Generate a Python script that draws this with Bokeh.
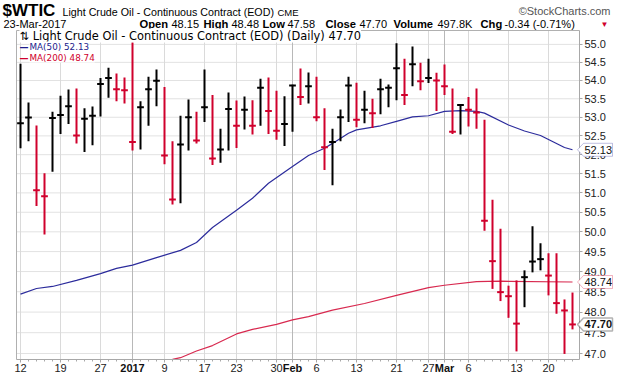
import math
from bokeh.plotting import figure
from bokeh.models import (Range1d, FixedTicker, PrintfTickFormatter, Label,
                          PolyAnnotation, ColumnDataSource)
from bokeh.embed import file_html
from bokeh.resources import INLINE

# ---------------- data ----------------
dates = ["2016-12-12", "2016-12-13", "2016-12-14", "2016-12-15", "2016-12-16",
         "2016-12-19", "2016-12-20", "2016-12-21", "2016-12-22", "2016-12-23",
         "2016-12-27", "2016-12-28", "2016-12-29", "2016-12-30",
         "2017-01-03", "2017-01-04", "2017-01-05", "2017-01-06",
         "2017-01-09", "2017-01-10", "2017-01-11", "2017-01-12", "2017-01-13",
         "2017-01-17", "2017-01-18", "2017-01-19", "2017-01-20",
         "2017-01-23", "2017-01-24", "2017-01-25", "2017-01-26", "2017-01-27",
         "2017-01-30", "2017-01-31", "2017-02-01", "2017-02-02", "2017-02-03",
         "2017-02-06", "2017-02-07", "2017-02-08", "2017-02-09", "2017-02-10",
         "2017-02-13", "2017-02-14", "2017-02-15", "2017-02-16", "2017-02-17",
         "2017-02-21", "2017-02-22", "2017-02-23", "2017-02-24",
         "2017-02-27", "2017-02-28", "2017-03-01", "2017-03-02", "2017-03-03",
         "2017-03-06", "2017-03-07", "2017-03-08", "2017-03-09", "2017-03-10",
         "2017-03-13", "2017-03-14", "2017-03-15", "2017-03-16", "2017-03-17",
         "2017-03-20", "2017-03-21", "2017-03-22", "2017-03-23"]

high = [54.46, 53.40, 52.78, 51.51, 53.15, 53.58, 53.75, 53.78, 53.24, 53.29,
        54.07, 54.35, 54.19, 54.08, 55.06, 53.43, 54.10, 54.30, 53.82, 52.36,
        53.04, 53.48, 53.15, 54.30, 53.60, 52.69, 53.67, 53.45, 53.56, 53.46,
        54.05, 54.08, 53.72, 53.57, 53.88, 54.33, 54.22, 54.10, 53.24, 52.69,
        53.21, 54.10, 53.94, 53.72, 53.50, 54.05, 53.89, 55.03, 54.60, 54.94,
        54.49, 54.60, 54.21, 54.44, 53.78, 53.36, 53.55, 53.78, 52.93, 50.82,
        50.08, 48.65, 48.78, 49.03, 50.14, 49.71, 49.46, 49.46, 48.31, 48.48]

low = [52.17, 52.36, 50.66, 49.93, 51.55, 52.55, 52.82, 52.30, 52.07, 52.25,
       53.02, 53.53, 53.43, 53.37, 52.11, 52.14, 52.77, 53.30, 51.75, 50.70,
       50.73, 52.11, 52.30, 52.87, 51.73, 51.79, 52.11, 52.18, 52.67, 52.54,
       52.77, 52.55, 52.40, 52.23, 52.61, 53.33, 53.37, 52.89, 51.60, 51.20,
       52.36, 52.87, 52.73, 52.84, 52.71, 53.08, 53.27, 53.46, 53.33, 53.84,
       53.73, 53.93, 53.17, 53.60, 52.55, 52.54, 52.75, 52.69, 50.03, 48.57,
       48.27, 47.86, 47.05, 48.12, 48.98, 49.03, 48.41, 47.96, 46.99, 47.58]

close = [52.84, 52.99, 51.07, 50.91, 52.98, 53.06, 53.30, 52.51, 52.96, 53.04,
         53.90, 54.07, 53.76, 53.73, 52.34, 53.27, 53.76, 53.99, 51.98, 50.83,
         52.27, 53.00, 52.38, 53.27, 51.90, 52.14, 53.22, 52.77, 53.20, 52.77,
         53.80, 53.17, 52.64, 52.82, 53.86, 53.55, 53.84, 53.00, 52.20, 52.34,
         53.00, 53.86, 52.93, 53.20, 53.11, 53.76, 53.80, 54.34, 53.60, 54.45,
         53.98, 54.07, 54.00, 53.84, 52.61, 53.33, 53.20, 53.13, 50.28, 49.26,
         48.49, 48.39, 47.72, 48.86, 49.25, 49.31, 48.90, 48.22, 48.04, 47.70]

last_open = 48.15
last_volume = "497.8K"

ma50_dates = ["2016-12-12", "2016-12-14", "2016-12-16", "2016-12-21", "2016-12-27",
              "2016-12-29", "2017-01-03", "2017-01-06", "2017-01-11", "2017-01-13",
              "2017-01-18", "2017-01-23", "2017-01-25", "2017-01-27", "2017-02-01",
              "2017-02-03", "2017-02-07", "2017-02-08", "2017-02-10", "2017-02-13",
              "2017-02-16", "2017-02-21", "2017-02-23", "2017-02-27", "2017-03-01",
              "2017-03-03", "2017-03-07", "2017-03-08", "2017-03-13", "2017-03-15",
              "2017-03-17", "2017-03-22", "2017-03-23"]
ma50 = [48.44, 48.58, 48.63, 48.78, 48.95, 49.08, 49.16, 49.35, 49.53, 49.73,
        50.11, 50.55, 50.86, 51.25, 51.69, 51.98, 52.17, 52.30, 52.57, 52.66,
        52.77, 52.89, 53.01, 53.04, 53.16, 53.18, 53.16, 53.11, 52.79, 52.63,
        52.51, 52.19, 52.13]

ma200_dates = ["2017-01-10", "2017-01-11", "2017-01-13", "2017-01-18", "2017-01-23",
               "2017-01-25", "2017-01-30", "2017-02-01", "2017-02-03", "2017-02-08",
               "2017-02-14", "2017-02-21", "2017-02-27", "2017-03-01", "2017-03-07",
               "2017-03-10", "2017-03-23"]
ma200 = [46.86, 46.90, 47.06, 47.19, 47.47, 47.58, 47.70, 47.81, 47.89, 48.05,
         48.21, 48.41, 48.60, 48.66, 48.75, 48.76, 48.74]

# week / month grid lines
grid_dates = ["2016-12-12", "2016-12-19", "2016-12-27", "2017-01-09", "2017-01-17",
              "2017-01-23", "2017-01-30", "2017-02-06", "2017-02-13", "2017-02-21",
              "2017-02-27", "2017-03-06", "2017-03-13", "2017-03-20"]
month_dates = ["2017-01-03", "2017-02-01", "2017-03-01"]
# x-axis labels (as placed in the picture)
tick_dates = ["2016-12-12", "2016-12-19", "2016-12-27", "2017-01-03", "2017-01-09",
              "2017-01-17", "2017-01-23", "2017-01-30", "2017-02-01", "2017-02-06",
              "2017-02-13", "2017-02-21", "2017-02-27", "2017-03-01", "2017-03-06",
              "2017-03-14", "2017-03-20"]
tick_labels = ["12", "19", "27", "2017", "9", "17", "23", "30", "Feb", "6",
               "13", "21", "27", "Mar", "6", "13", "20"]
bold_labels = ["2017", "Feb", "Mar"]

price_ticks = [47.0, 47.5, 48.0, 48.5, 49.0, 49.5, 50.0, 50.5, 51.0,
               51.5, 52.0, 52.5, 53.0, 53.5, 54.0, 54.5, 55.0]

# ---------------- layout / styling ----------------
RED = "#d0002c"
BLACK = "#000000"
BLUE = "#2c2c9c"
MA200_COL = "#d8294f"
W, H = 620, 376
# chart box (in data units): x = bar slots, y = price (log)
CX0, CX1 = -0.5, 69.875
CY0, CY1 = 46.857, 55.39
# the frame covers the whole canvas; these map canvas pixels to data units
PX_PER_SLOT = 8.0
CHART_LEFT_PX, CHART_TOP_PX, CHART_BOTTOM_PX = 16, 30, 359
K = (CHART_BOTTOM_PX - CHART_TOP_PX) / (math.log(CY1) - math.log(CY0))
VX0 = CX0 - CHART_LEFT_PX / PX_PER_SLOT
VX1 = VX0 + W / PX_PER_SLOT
VY1 = math.exp(math.log(CY1) + CHART_TOP_PX / K)
VY0 = math.exp(math.log(CY0) - (H - CHART_BOTTOM_PX) / K)

idx = {d: i for i, d in enumerate(dates)}
xs = list(range(len(dates)))
colors = [BLACK if i == 0 or close[i] >= close[i - 1] else RED for i in xs]

src = ColumnDataSource(dict(
    x=xs, xl=[v - 0.42 for v in xs], xr=[v + 0.42 for v in xs],
    high=high, low=low, close=close, color=colors))

p = figure(width=W, height=H, output_backend="svg", toolbar_location=None,
           y_axis_type="log", y_axis_location="right",
           x_range=Range1d(VX0, VX1), y_range=Range1d(VY0, VY1),
           min_border_left=0, min_border_right=0,
           min_border_top=0, min_border_bottom=0,
           background_fill_color="white", border_fill_color="white")
p.outline_line_color = None
p.xgrid.visible = False
p.ygrid.visible = False

# grid lines limited to the chart box
p.segment(x0=[CX0] * len(price_ticks), x1=[CX1] * len(price_ticks),
          y0=price_ticks, y1=price_ticks, line_color="#e2e2e2", line_width=1)
week_x = [idx[d] for d in grid_dates]
month_x = [idx[d] for d in month_dates]
p.segment(x0=week_x, x1=week_x, y0=[CY0] * len(week_x), y1=[CY1] * len(week_x),
          line_color="#dadada", line_width=1)
p.segment(x0=month_x, x1=month_x, y0=[CY0] * len(month_x), y1=[CY1] * len(month_x),
          line_color="#b8b8b8", line_width=1)
# left and top border of the chart box
p.segment(x0=[CX0, CX0], x1=[CX0, CX1], y0=[CY0, CY1], y1=[CY1, CY1],
          line_color="#b0b0b0", line_width=1)

# y axis (right side of chart box)
p.yaxis.fixed_location = CX1
p.yaxis.bounds = (CY0, CY1)
p.yaxis.ticker = FixedTicker(ticks=price_ticks)
p.yaxis.formatter = PrintfTickFormatter(format="%.1f")
p.yaxis.axis_line_color = "#a8a8a8"
p.yaxis.major_tick_line_color = "#a8a8a8"
p.yaxis.major_tick_out = 3
p.yaxis.major_tick_in = 0
p.yaxis.minor_tick_line_color = None
p.yaxis.major_label_standoff = 2
p.yaxis.major_label_text_font = "Liberation Sans"
p.yaxis.major_label_text_font_size = "11px"
p.yaxis.major_label_text_color = "#222222"

# x axis (bottom of chart box)
tick_x = [idx[d] for d in tick_dates]
p.xaxis.fixed_location = CY0
p.xaxis.bounds = (CX0, CX1)
p.xaxis.ticker = FixedTicker(ticks=tick_x, minor_ticks=xs)
p.xaxis.major_label_overrides = {tx: ("" if t in bold_labels else t)
                                 for tx, t in zip(tick_x, tick_labels)}
p.xaxis.axis_line_color = "#a8a8a8"
p.xaxis.major_tick_line_color = "#a8a8a8"
p.xaxis.minor_tick_line_color = "#a8a8a8"
p.xaxis.major_tick_out = 3
p.xaxis.major_tick_in = 0
p.xaxis.minor_tick_out = 2
p.xaxis.minor_tick_in = 0
p.xaxis.major_label_standoff = 1
p.xaxis.major_label_text_font = "Liberation Sans"
p.xaxis.major_label_text_font_size = "11px"
p.xaxis.major_label_text_color = "#222222"

# moving averages
p.line([idx[d] for d in ma200_dates], ma200, line_color=MA200_COL, line_width=1.2)
p.line([idx[d] for d in ma50_dates], ma50, line_color=BLUE, line_width=1.2)

# HLC bars
p.segment(x0="x", y0="low", x1="x", y1="high", line_color="color",
          line_width=2, source=src)
p.segment(x0="xl", y0="close", x1="xr", y1="close", line_color="color",
          line_width=2, source=src)


def sy(v):
    """canvas y (from top) of a price"""
    return CHART_TOP_PX + (math.log(CY1) - math.log(v)) * K


def txt(s, cx, cy, size=11, bold=False, color="#000000", align="left",
        font="Liberation Sans", bg=None):
    lab = Label(x=cx, y=H - cy, x_units="screen", y_units="screen", text=s,
                text_font=font, text_font_size=f"{size}px",
                text_font_style="bold" if bold else "normal",
                text_color=color, text_align=align, text_baseline="middle")
    if bg:
        lab.background_fill_color = bg
    p.add_layout(lab)


# bold month labels on x axis
for d, t in zip(tick_dates, tick_labels):
    if t in bold_labels:
        p.add_layout(Label(x=idx[d], x_units="data", y=H - 367, y_units="screen",
                           text=t, text_font="Liberation Sans", text_font_size="11px",
                           text_font_style="bold", text_align="center",
                           text_baseline="middle", text_color="#111111"))

# header
yy, mm, dd = dates[-1].split("-")
mon = ["Jan", "Feb", "Mar", "Apr", "May", "Jun", "Jul", "Aug", "Sep", "Oct",
       "Nov", "Dec"][int(mm) - 1]
chg = close[-1] - close[-2]
pct = chg / close[-2] * 100

txt("$WTIC", 2, 10, 17, bold=True)
txt("Light Crude Oil - Continuous Contract (EOD)", 62, 11, 10.7)
txt("CME", 277, 12, 9.5)
txt("\u00a9StockCharts.com", 610, 10, 11, color="#555555", align="right")
txt(f"{dd}-{mon}-{yy}", 3, 23, 11)
# (text, x where it starts, bold)
segs = [("Open", 139, True), (f"{last_open:.2f}", 171, False),
        ("High", 203, True), (f"{high[-1]:.2f}", 231, False),
        ("Low", 262, True), (f"{low[-1]:.2f}", 287, False),
        ("Close", 325, True), (f"{close[-1]:.2f}", 359, False),
        ("Volume", 393, True), (last_volume, 437, False),
        ("Chg", 480, True), (f"{chg:.2f} ({pct:.2f}%)", 504, False)]
for s, cx, b in segs:
    txt(s, cx, 23, 11.2 if b else 11, bold=b)
txt("\u25bc", 600, 24, 8, color=RED)

# in-chart legend
txt(f"\u21c5 Light Crude Oil - Continuous Contract (EOD) (Daily) {close[-1]:.2f}",
    19, 35, 11.4, font="DejaVu Sans", bg="white")
txt("\u2014", 19, 46, 9, bold=True, color="#1c1c8c", font="DejaVu Sans")
txt(f"MA(50) {ma50[-1]:.2f}", 29, 46, 8.8, color="#1c1c8c", font="DejaVu Sans", bg="white")
txt("\u2014", 19, 57, 9, bold=True, color=RED, font="DejaVu Sans")
txt(f"MA(200) {ma200[-1]:.2f}", 29, 57, 8.8, color=RED, font="DejaVu Sans", bg="white")


# value boxes on the right axis
def value_box(val, border, bold=False, lw=1.0):
    cy = sy(val)
    bx = [577, 583, 612, 612, 583]
    by = [cy, cy - 6.5, cy - 6.5, cy + 6.5, cy + 6.5]
    p.add_layout(PolyAnnotation(xs=bx, ys=[H - v for v in by],
                                xs_units="screen", ys_units="screen",
                                fill_color="white", fill_alpha=1.0,
                                line_color=border, line_width=lw))
    txt(f"{val:.2f}", 584, cy, 11, bold=bold, color="#111111")


value_box(ma50[-1], BLUE)
value_box(ma200[-1], RED)
value_box(close[-1], BLACK, bold=True, lw=1.5)

open("out.html", "w").write(file_html(p, INLINE, title="$WTIC"))
